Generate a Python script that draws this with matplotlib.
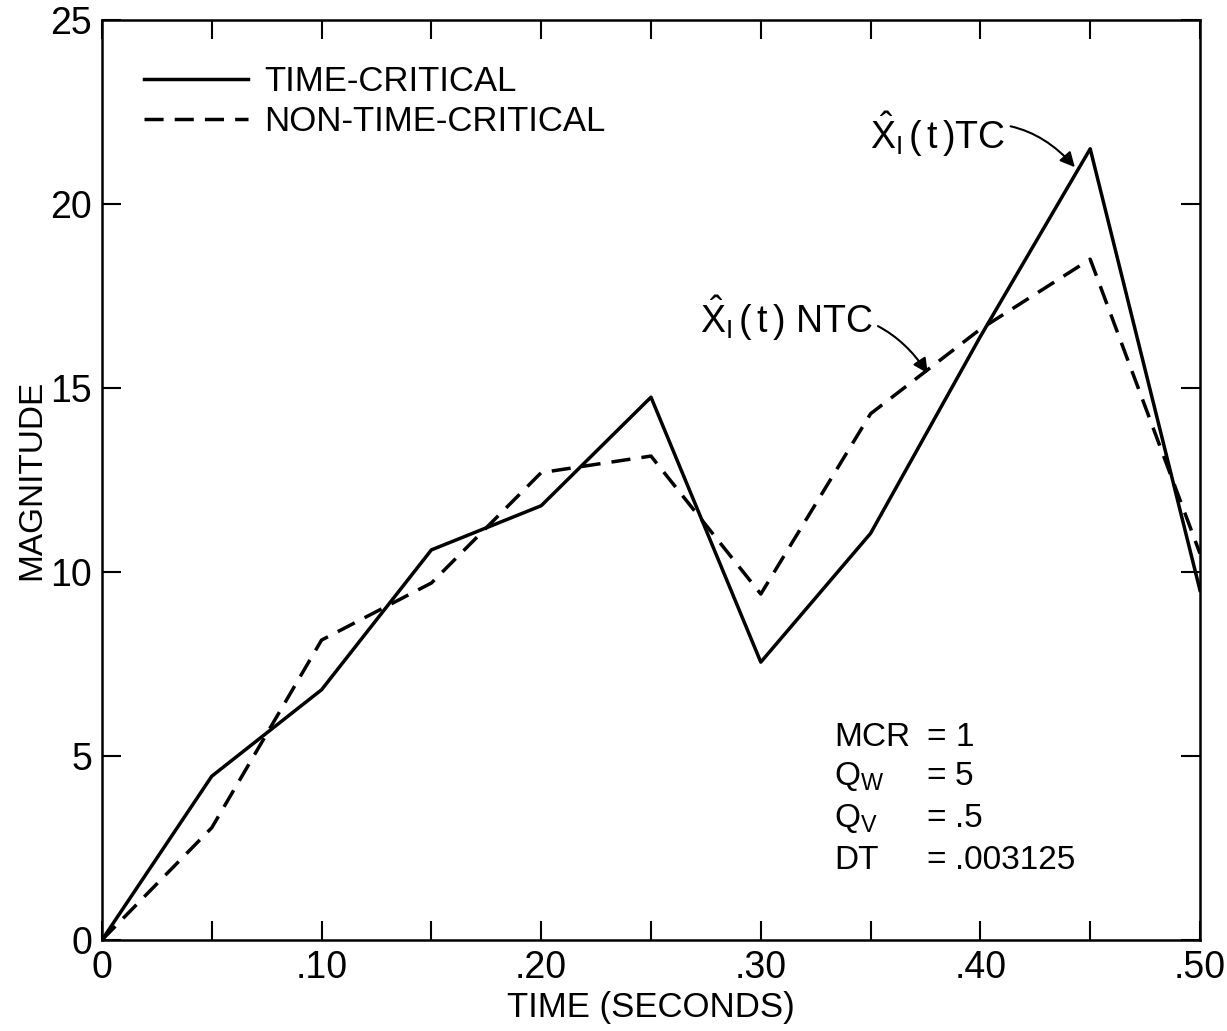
# Kalman filter estimate comparison - time critical vs non time critical

import numpy as np
import matplotlib
matplotlib.use("Agg")
import matplotlib.pyplot as plt
from matplotlib.ticker import MultipleLocator, FixedFormatter, FixedLocator

plt.rcParams['font.family'] = ['Liberation Sans', 'DejaVu Sans']
plt.rcParams['mathtext.fontset'] = 'custom'
plt.rcParams['mathtext.rm'] = 'Liberation Sans'
plt.rcParams['mathtext.it'] = 'Liberation Sans'

# data
time = [0, .05, .10, .15, .20, .25, .30, .35, .40, .45, .50]
tc = [0, 4.45, 6.8, 10.6, 11.8, 14.75, 7.55, 11.05, 16.4, 21.5, 9.5]
ntc = [0, 3.05, 8.15, 9.7, 12.7, 13.15, 9.4, 14.3, 16.6, 18.5, 10.5]

xtick_vals = [0, .10, .20, .30, .40, .50]
xtick_labels = ['0', '.10', '.20', '.30', '.40', '.50']
ytick_vals = [0, 5, 10, 15, 20, 25]

params = [('MCR', '=', '1'), (r'Q$_\mathrm{W}$', '=', '5'),
          (r'Q$_\mathrm{V}$', '=', '.5'), ('DT', '=', '.003125')]

fig = plt.figure(figsize=(12.27, 10.31), dpi=100)
ax = fig.add_axes([0.0831, 0.0883, 0.8949, 0.8923])

ax.plot(time, tc, color='black', lw=2.5, label='TIME-CRITICAL')
ax.plot(time, ntc, color='black', lw=2.5, dashes=(5.5, 3.2), label='NON-TIME-CRITICAL')

ax.set_xlim(0, 0.5)
ax.set_ylim(0, 25)

ax.xaxis.set_major_locator(FixedLocator(xtick_vals))
ax.xaxis.set_major_formatter(FixedFormatter(xtick_labels))
ax.xaxis.set_minor_locator(MultipleLocator(0.05))
ax.yaxis.set_major_locator(FixedLocator(ytick_vals))

ax.tick_params(axis='both', which='both', direction='in', top=True, right=True,
               length=14, width=1.5, labelsize=27, pad=7)
for s in ax.spines.values():
    s.set_linewidth(1.8)

ax.set_xlabel('TIME (SECONDS)', fontsize=25, labelpad=4)
ax.set_ylabel('MAGNITUDE', fontsize=24, labelpad=2)

leg = ax.legend(loc='upper left', frameon=False, fontsize=25, handlelength=3.0,
                handletextpad=0.45, labelspacing=0.2, bbox_to_anchor=(0.01, 0.985))

# annotations with curved arrows
ax.annotate(r'$\hat{\mathrm{X}}_\mathrm{I}\,(\,\mathrm{t}\,)$TC', xy=(0.443, 21.0),
            xytext=(0.3497, 21.9), fontsize=27, ha='left', va='center',
            arrowprops=dict(arrowstyle='-|>', color='black', lw=1.5,
                            connectionstyle='arc3,rad=-0.35', mutation_scale=22,
                            shrinkA=2, shrinkB=0))
ax.annotate(r'$\hat{\mathrm{X}}_\mathrm{I}\,(\,\mathrm{t}\,)$ NTC', xy=(0.376, 15.4),
            xytext=(0.2723, 16.9), fontsize=27, ha='left', va='center',
            arrowprops=dict(arrowstyle='-|>', color='black', lw=1.5,
                            connectionstyle='arc3,rad=-0.35', mutation_scale=22,
                            shrinkA=2, shrinkB=0))

# parameter block
ys = [5.5, 4.45, 3.3, 2.15]
for (name, eq, val), yy in zip(params, ys):
    ax.text(0.3335, yy, name, fontsize=24, va='center')
    ax.text(0.3755, yy, eq, fontsize=24, va='center')
    ax.text(0.3885, yy, val, fontsize=24, va='center')

fig.savefig('out.png', dpi=100)
